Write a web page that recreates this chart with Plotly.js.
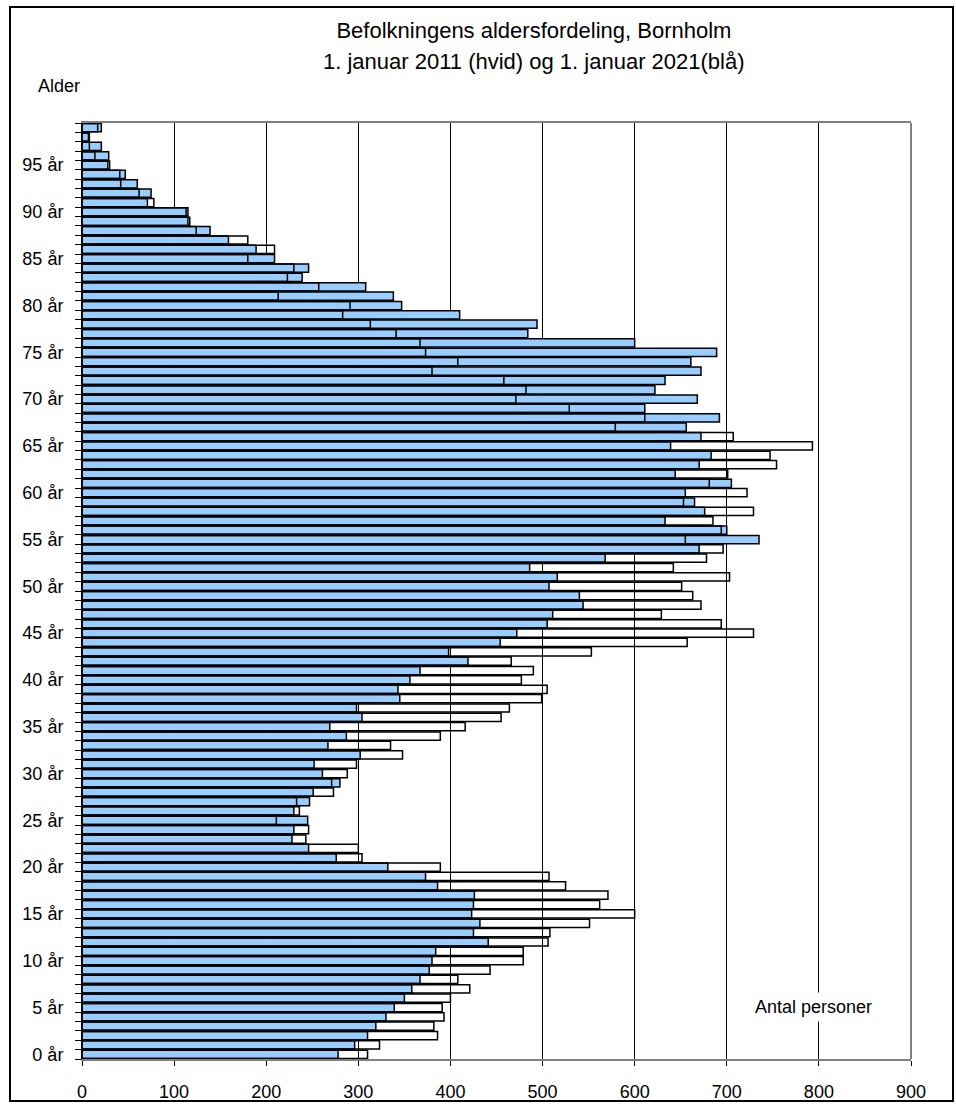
<!DOCTYPE html>
<html>
<head>
<meta charset="utf-8">
<script src="https://cdn.plot.ly/plotly-3.0.1.min.js"></script>
<style>
  html, body { margin:0; padding:0; background:#fff; }
  #wrap { position:relative; width:956px; height:1108px; }
  #chart { position:absolute; left:0; top:0; width:956px; height:1108px; }
  #frame { position:absolute; left:9px; top:6px; width:945px; height:1096px; border:2px solid #000; box-sizing:border-box; pointer-events:none; }
</style>
</head>
<body>
<div id="wrap"><div id="chart"></div><div id="frame"></div></div>
<script>
// Age categories (0..99)
const ages = [0,1,2,3,4,5,6,7,8,9,10,11,12,13,14,15,16,17,18,19,20,21,22,23,24,25,26,27,28,29,30,31,32,33,34,35,36,37,38,39,40,41,42,43,44,45,46,47,48,49,50,51,52,53,54,55,56,57,58,59,60,61,62,63,64,65,66,67,68,69,70,71,72,73,74,75,76,77,78,79,80,81,82,83,84,85,86,87,88,89,90,91,92,93,94,95,96,97,98,99];

// Population 1 January 2011 (white bars)
const pop2011 = [310,323,386,382,393,391,400,421,408,443,479,479,506,508,551,600,562,571,525,507,389,304,300,243,246,211,236,233,273,271,288,298,348,335,389,416,455,464,499,505,477,490,466,553,657,729,694,629,672,663,651,703,642,678,696,655,694,685,729,653,722,681,701,754,747,793,707,579,611,529,471,482,458,380,408,373,367,341,313,283,291,213,257,223,230,180,209,180,124,117,115,78,62,42,41,30,14,8,8,17];

// Population 1 January 2021 (blue bars)
const pop2021 = [278,296,310,319,330,339,350,358,367,377,380,384,441,425,432,423,425,426,386,373,332,276,246,228,230,245,230,247,251,280,261,252,302,267,287,269,304,298,345,343,356,367,419,398,454,472,505,511,544,540,507,516,486,568,670,735,700,633,676,665,655,705,644,670,683,639,672,656,692,611,668,622,633,672,661,689,600,484,494,410,347,338,308,239,246,209,189,159,139,115,113,71,75,60,47,28,29,21,7,21];

// Y tick labels (every 5 years)
const yTickVals = [0,5,10,15,20,25,30,35,40,45,50,55,60,65,70,75,80,85,90,95];
const yTickText = ['0 år','5 år','10 år','15 år','20 år','25 år','30 år','35 år','40 år','45 år','50 år','55 år','60 år','65 år','70 år','75 år','80 år','85 år','90 år','95 år'];

// X ticks
const xTickVals = [0,100,200,300,400,500,600,700,800,900];

const FONT = 'Liberation Sans, Arial, Helvetica, sans-serif';

// minor ticks at the category boundaries
const boundaries = ages.map(a => a - 0.5).concat([ages[ages.length-1] + 0.5]);

const traces = [
  {
    type: 'bar', orientation: 'h',
    y: ages, x: pop2021, name: '2021',
    marker: { color: '#99CCFF', line: { color: '#000000', width: 1.5 } },
    hoverinfo: 'skip'
  },
  {
    type: 'bar', orientation: 'h',
    y: ages, x: pop2011, name: '2011',
    marker: { color: 'rgba(255,255,255,0)', line: { color: '#000000', width: 1.5 } },
    hoverinfo: 'skip'
  }
];

const layout = {
  width: 956, height: 1108,
  margin: { l: 82, r: 45, t: 123, b: 49, pad: 0 },
  paper_bgcolor: '#ffffff', plot_bgcolor: '#ffffff',
  showlegend: false,
  barmode: 'overlay',
  bargap: 0.12,
  font: { family: FONT, color: '#000000', size: 18 },
  title: {
    text: 'Befolkningens aldersfordeling, Bornholm',
    font: { family: FONT, size: 22, color: '#000000' },
    xref: 'container', yref: 'container',
    x: 0.5585, xanchor: 'center',
    y: 0.9725, yanchor: 'middle'
  },
  xaxis: {
    range: [0, 900],
    tickmode: 'array', tickvals: xTickVals,
    ticks: 'outside', ticklen: 5, tickcolor: '#000000', tickwidth: 1,
    showgrid: true, gridcolor: '#000000', gridwidth: 1,
    zeroline: false,
    showline: true, linecolor: '#808080', linewidth: 2, mirror: true,
    ticklabelstandoff: 10,
    tickfont: { family: FONT, size: 18, color: '#000000' }
  },
  yaxis: {
    range: [-0.5, 99.5],
    tickmode: 'array', tickvals: yTickVals, ticktext: yTickText,
    ticks: '',
    showgrid: false, zeroline: false,
    showline: true, linecolor: '#000000', linewidth: 1,
    ticklabelstandoff: 14,
    tickfont: { family: FONT, size: 18, color: '#000000' },
    minor: { tickmode: 'array', tickvals: boundaries, ticks: 'outside', ticklen: 6, tickcolor: '#000000', tickwidth: 1, showgrid: false }
  },
  shapes: [
    { type: 'line', xref: 'paper', yref: 'paper', x0: 1, x1: 1, y0: 0, y1: 1, line: { color: '#808080', width: 2 } }
  ],
  annotations: [
    {
      text: '1. januar 2011 (hvid) og 1. januar 2021(blå)',
      xref: 'paper', yref: 'paper', x: 0.5452, y: 1.0652,
      xanchor: 'center', yanchor: 'middle', showarrow: false,
      font: { family: FONT, size: 22, color: '#000000' }
    },
    {
      text: 'Alder',
      xref: 'paper', yref: 'paper', x: -0.0555, y: 1.0395,
      xanchor: 'left', yanchor: 'middle', showarrow: false,
      font: { family: FONT, size: 18, color: '#000000' }
    },
    {
      text: 'Antal personer',
      xref: 'paper', yref: 'paper', x: 0.8825, y: 0.0555,
      xanchor: 'center', yanchor: 'middle', showarrow: false,
      bgcolor: '#ffffff', borderpad: 4,
      font: { family: FONT, size: 18, color: '#000000' }
    }
  ]
};

Plotly.newPlot('chart', traces, layout, { displayModeBar: false, staticPlot: true });
</script>
</body>
</html>
